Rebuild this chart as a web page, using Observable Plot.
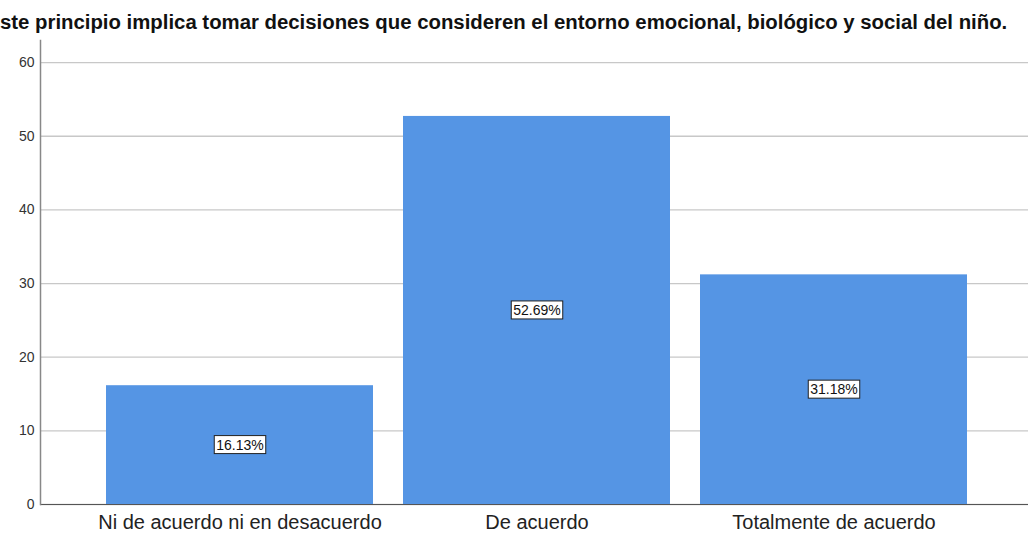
<!DOCTYPE html>
<html>
<head>
<meta charset="utf-8">
<script src="https://cdn.jsdelivr.net/npm/d3@7"></script>
<script src="https://cdn.jsdelivr.net/npm/@observablehq/plot@0.6"></script>
<style>
  html, body { margin: 0; padding: 0; background: #fff; }
  #wrap { position: relative; width: 1028px; height: 533px; overflow: hidden; font-family: "Liberation Sans", Arial, sans-serif; }
  #title { position: absolute; left: 0; top: 10px; width: 1007px; text-align: right; white-space: nowrap;
           font-size: 20.35px; line-height: 24px; font-weight: bold; color: #111; }
</style>
</head>
<body>
<div id="wrap">
  <div id="chart"></div>
  <div id="title">ste principio implica tomar decisiones que consideren el entorno emocional, biológico y social del niño.</div>
</div>
<script>
const categories = ["Ni de acuerdo ni en desacuerdo", "De acuerdo", "Totalmente de acuerdo"];
const percents = [16.13, 52.69, 31.18];
const yTicks = [0, 10, 20, 30, 40, 50, 60];

const data = categories.map((c, i) => ({ cat: c, value: percents[i], label: percents[i].toFixed(2) + "%" }));

const plot = Plot.plot({
  width: 1028,
  height: 533,
  marginTop: 40,
  marginBottom: 29,
  marginLeft: 40,
  marginRight: 0,
  style: { fontFamily: "Liberation Sans, Arial, sans-serif", background: "#fff" },
  x: { domain: categories, range: [45, 1028], paddingInner: 0.1, paddingOuter: 0.2, label: null },
  y: { domain: [0, 63], label: null },
  marks: [
    Plot.gridY(yTicks, { stroke: "#c8c8c8", strokeOpacity: 1, strokeWidth: 1.3 }),
    Plot.barY(data, { x: "cat", y: "value", fill: "#5595e4" }),
    Plot.ruleY([0], { stroke: "#555", strokeWidth: 1.2 }),
    Plot.frame({ anchor: "left", stroke: "#888", strokeWidth: 1.5 }),
    Plot.axisY(yTicks, { tickSize: 0, tickPadding: 6, fontSize: 14, fill: "#333", label: null }),
    Plot.axisX({ tickSize: 0, tickPadding: 10, fontSize: 20, fill: "#222", label: null }),
    Plot.text(data, { x: "cat", y: d => d.value / 2, text: "label", fontSize: 14, fill: "#111", className: "barlabels" })
  ]
});
document.getElementById("chart").appendChild(plot);

// white boxes with dark border behind the value labels
const svg = plot.tagName.toLowerCase() === "svg" ? plot : plot.querySelector("svg");
svg.querySelectorAll("g.barlabels text").forEach(t => {
  const b = t.getBBox();
  const r = document.createElementNS("http://www.w3.org/2000/svg", "rect");
  r.setAttribute("x", b.x - 2);
  r.setAttribute("y", b.y - 1);
  r.setAttribute("width", b.width + 4);
  r.setAttribute("height", b.height + 2);
  r.setAttribute("fill", "#fff");
  r.setAttribute("stroke", "#222");
  r.setAttribute("stroke-width", 1);
  const tr = t.getAttribute("transform");
  if (tr) r.setAttribute("transform", tr);
  t.parentNode.insertBefore(r, t);
});
</script>
</body>
</html>
